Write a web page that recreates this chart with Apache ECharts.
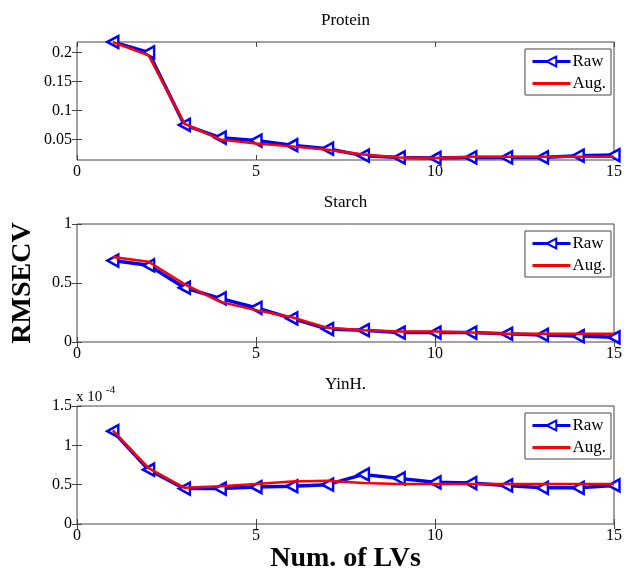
<!DOCTYPE html>
<html>
<head>
<meta charset="utf-8">
<script src="https://cdn.jsdelivr.net/npm/echarts@6/dist/echarts.min.js"></script>
<style>
  html, body { margin: 0; padding: 0; background: #fff; }
  #chart { width: 624px; height: 570px; }
</style>
</head>
<body>
<div id="chart"></div>
<script>
// number of latent variables
var lvs = [1, 2, 3, 4, 5, 6, 7, 8, 9, 10, 11, 12, 13, 14, 15];

// Protein
var proteinRaw = [0.218, 0.200, 0.075, 0.053, 0.048, 0.040, 0.034, 0.022, 0.019, 0.018, 0.019, 0.019, 0.019, 0.022, 0.023];
var proteinAug = [0.218, 0.195, 0.077, 0.050, 0.043, 0.038, 0.032, 0.024, 0.019, 0.018, 0.020, 0.020, 0.020, 0.020, 0.020];

// Starch
var starchRaw = [0.69, 0.65, 0.46, 0.37, 0.29, 0.20, 0.11, 0.10, 0.08, 0.08, 0.08, 0.07, 0.06, 0.05, 0.04];
var starchAug = [0.72, 0.68, 0.49, 0.34, 0.27, 0.21, 0.12, 0.10, 0.09, 0.09, 0.08, 0.07, 0.07, 0.07, 0.07];

// YinH. (values in units of 1e-4)
var yinhRaw = [1.18, 0.69, 0.45, 0.45, 0.47, 0.48, 0.50, 0.63, 0.58, 0.53, 0.52, 0.49, 0.46, 0.46, 0.49];
var yinhAug = [1.19, 0.71, 0.46, 0.48, 0.51, 0.54, 0.55, 0.52, 0.51, 0.51, 0.51, 0.51, 0.51, 0.51, 0.51];

var xTicks = [0, 5, 10, 15];
var proteinTicks = [0.05, 0.1, 0.15, 0.2];
var starchTicks = [0, 0.5, 1];
var yinhTicks = [0, 0.5, 1, 1.5];

var titles = ['Protein', 'Starch', 'YinH.'];

function pairs(vals) {
  return vals.map(function (v, i) { return [lvs[i], v]; });
}

var font = 'Liberation Serif, Times New Roman, serif';
var gridTops = [42, 224, 406];
var gridH = 118;
var gridLeft = 77, gridRight = 10;
var triangleLeft = 'path://M0,5L10,0L10,10Z';

var chart = echarts.init(document.getElementById('chart'));

var grids = [], xAxes = [], yAxes = [], series = [], legends = [];
var yRanges = [
  { min: 0.0145, max: 0.218, ticks: proteinTicks },
  { min: 0, max: 1, ticks: starchTicks },
  { min: 0, max: 1.5, ticks: yinhTicks }
];
var rawSets = [proteinRaw, starchRaw, yinhRaw];
var augSets = [proteinAug, starchAug, yinhAug];

for (var g = 0; g < 3; g++) {
  grids.push({
    left: gridLeft, right: gridRight, top: gridTops[g], height: gridH,
    outerBoundsMode: 'none', containLabel: false,
    show: true, borderColor: '#444', borderWidth: 1, backgroundColor: '#fff'
  });
  // bottom axis with labels
  xAxes.push({
    type: 'value', gridIndex: g, min: 0, max: 15, interval: 5, position: 'bottom',
    axisLine: { show: false },
    axisTick: { inside: true, length: 5, lineStyle: { color: '#444' } },
    axisLabel: { color: '#000', fontFamily: font, fontSize: 16, margin: 4, customValues: xTicks },
    splitLine: { show: false },
    name: g === 2 ? 'Num. of LVs' : '',
    nameLocation: 'middle', nameGap: 21,
    nameTextStyle: { color: '#000', fontFamily: font, fontSize: 28, fontWeight: 'bold', verticalAlign: 'top' }
  });
  // top mirror axis (ticks only)
  xAxes.push({
    type: 'value', gridIndex: g, min: 0, max: 15, interval: 5, position: 'top',
    axisLine: { show: false },
    axisTick: { inside: true, length: 5, lineStyle: { color: '#444' } },
    axisLabel: { show: false },
    splitLine: { show: false }
  });
  var yr = yRanges[g];
  yAxes.push({
    type: 'value', gridIndex: g, min: yr.min, max: yr.max, position: 'left',
    axisLine: { show: false },
    axisTick: { inside: true, length: 5, lineStyle: { color: '#444' }, customValues: yr.ticks },
    axisLabel: { color: '#000', fontFamily: font, fontSize: 16, margin: 5, customValues: yr.ticks },
    splitLine: { show: false },
    name: g === 1 ? 'RMSECV' : '',
    nameLocation: 'middle', nameGap: 40, nameRotate: 90,
    nameTextStyle: { color: '#000', fontFamily: font, fontSize: 28, fontWeight: 'bold' }
  });
  yAxes.push({
    type: 'value', gridIndex: g, min: yr.min, max: yr.max, position: 'right',
    axisLine: { show: false },
    axisTick: { inside: true, length: 5, lineStyle: { color: '#444' }, customValues: yr.ticks },
    axisLabel: { show: false },
    splitLine: { show: false }
  });

  series.push({
    name: 'Raw', type: 'line', xAxisIndex: g * 2, yAxisIndex: g * 2,
    data: pairs(rawSets[g]),
    symbol: triangleLeft, symbolSize: [11, 12], showAllSymbol: true,
    lineStyle: { color: '#0000ff', width: 3.5 },
    itemStyle: { color: '#ffffff', borderColor: '#0000ff', borderWidth: 2.5 },
    clip: false, z: 2
  });
  series.push({
    name: 'Aug.', type: 'line', xAxisIndex: g * 2, yAxisIndex: g * 2,
    data: pairs(augSets[g]),
    symbol: 'none',
    lineStyle: { color: '#ff0000', width: 2.5 },
    itemStyle: { color: 'rgba(255,0,0,0)' },
    clip: false, z: 3
  });

  legends.push({
    data: [{ name: 'Raw' }, { name: 'Aug.', itemStyle: { opacity: 0 } }],
    orient: 'vertical',
    right: 13, top: gridTops[g] + 7,
    backgroundColor: '#fff', borderColor: '#444', borderWidth: 1,
    padding: [4, 5, 3, 6], itemGap: 5, itemWidth: 38, itemHeight: 12,
    selectedMode: false,
    lineStyle: { width: 3 },
    textStyle: { color: '#000', fontFamily: font, fontSize: 17, padding: [0, 0, 0, -3] }
  });
}

// titles centred over the axes box
var graphics = titles.map(function (t, g) {
  return {
    type: 'text', x: gridLeft + (624 - gridLeft - gridRight) / 2, y: gridTops[g] - 21,
    style: { text: t, fill: '#000', font: '17px ' + font, textAlign: 'center', textVerticalAlign: 'middle' }
  };
});
// exponent label for YinH.
graphics.push({
  type: 'text', x: 76, y: 397,
  style: { text: 'x 10', fill: '#000', font: '15px ' + font, textVerticalAlign: 'middle' }
});
graphics.push({
  type: 'text', x: 106, y: 390,
  style: { text: '-4', fill: '#000', font: '11px ' + font, textVerticalAlign: 'middle' }
});

chart.setOption({
  animation: false,
  backgroundColor: '#fff',
  grid: grids,
  xAxis: xAxes,
  yAxis: yAxes,
  legend: legends,
  series: series,
  graphic: graphics
});
</script>
</body>
</html>
